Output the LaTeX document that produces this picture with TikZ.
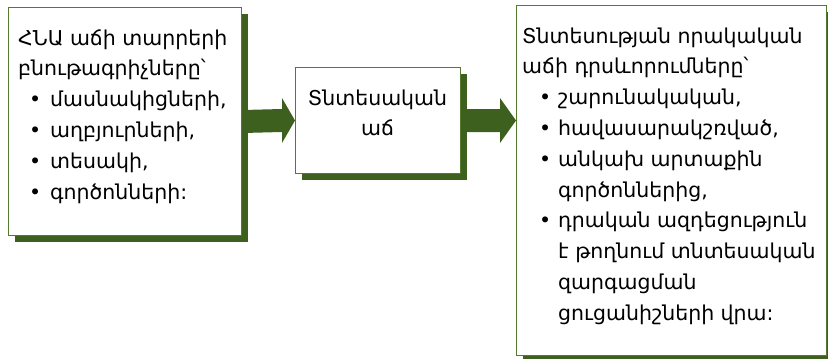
\documentclass[tikz,border=0pt]{standalone}
\usepackage{fontspec}
\setmainfont{DejaVu Sans}
\usetikzlibrary{calc,shadows}
\definecolor{dkgreen}{RGB}{62,96,30}
\definecolor{edgegreen}{RGB}{84,122,48}
\newlength{\bltind}
\newlength{\bltbox}
\newcommand{\bul}[1]{\hspace*{\bltind}\makebox[\bltbox][l]{•}#1}
\newcommand{\cont}[1]{\hspace*{\bltind}\hspace*{\bltbox}#1}
\begin{document}
\begin{tikzpicture}[x=1pt,y=-1pt,
  box/.style={draw=edgegreen, line width=1pt, fill=white, inner sep=0pt, anchor=north west,
    drop shadow={shadow xshift=6pt, shadow yshift=-6pt, fill=dkgreen, opacity=1}},
  txt/.style={inner sep=0pt, font=\fontsize{20.5}{30.8}\selectfont},
  blockarrow/.style={fill=dkgreen}]
\useasboundingbox (0,0) rectangle (828,359);
% boxes
\node[box, minimum width=233pt, minimum height=228pt] (L) at (8,7) {};
\node[box, minimum width=165pt, minimum height=106pt] (M) at (295,67) {};
\node[box, minimum width=310pt, minimum height=350pt] (R) at (516,5) {};
% arrows
\fill[blockarrow] ($(L.east)+(1,-11.5)$) -- ($(M.west)+(-13,-11.5)$) -- ($(M.west)+(-13,-22.5)$)
  -- (M.west) -- ($(M.west)+(-13,22.5)$) -- ($(M.west)+(-13,11.5)$) -- ($(L.east)+(1,11.5)$) -- cycle;
\fill[blockarrow] ($(M.east)+(1,-11.5)$) -- ($(R.west |- M.east)+(-16,-11.5)$) -- ($(R.west |- M.east)+(-16,-22.5)$)
  -- (R.west |- M.east) -- ($(R.west |- M.east)+(-16,22.5)$) -- ($(R.west |- M.east)+(-16,11.5)$) -- ($(M.east)+(1,11.5)$) -- cycle;
% texts
\setlength{\bltind}{11pt}\setlength{\bltbox}{21pt}
\node[txt, anchor=base west] (Lt) at (18,45) {\begin{tabular}[t]{@{}l@{}}
ՀՆԱ աճի տարրերի\\
բնութագրիչները՝\\
\bul{մասնակիցների,}\\
\bul{աղբյուրների,}\\
\bul{տեսակի,}\\
\bul{գործոնների:}
\end{tabular}};
\node[txt, anchor=base] (Mt) at (377.5,105) {\begin{tabular}[t]{@{}c@{}}
Տնտեսական\\
աճ
\end{tabular}};
\node[txt, anchor=base west] (Rt) at (522,43) {\setlength{\bltind}{17pt}\setlength{\bltbox}{19pt}\begin{tabular}[t]{@{}l@{}}
Տնտեսության որակական\\
աճի դրսևորումները՝\\
\bul{շարունակական,}\\
\bul{հավասարակշռված,}\\
\bul{անկախ արտաքին}\\
\cont{գործոններից,}\\
\bul{դրական ազդեցություն}\\
\cont{է թողնում տնտեսական}\\
\cont{զարգացման}\\
\cont{ցուցանիշների վրա:}
\end{tabular}};
\end{tikzpicture}
\end{document}
